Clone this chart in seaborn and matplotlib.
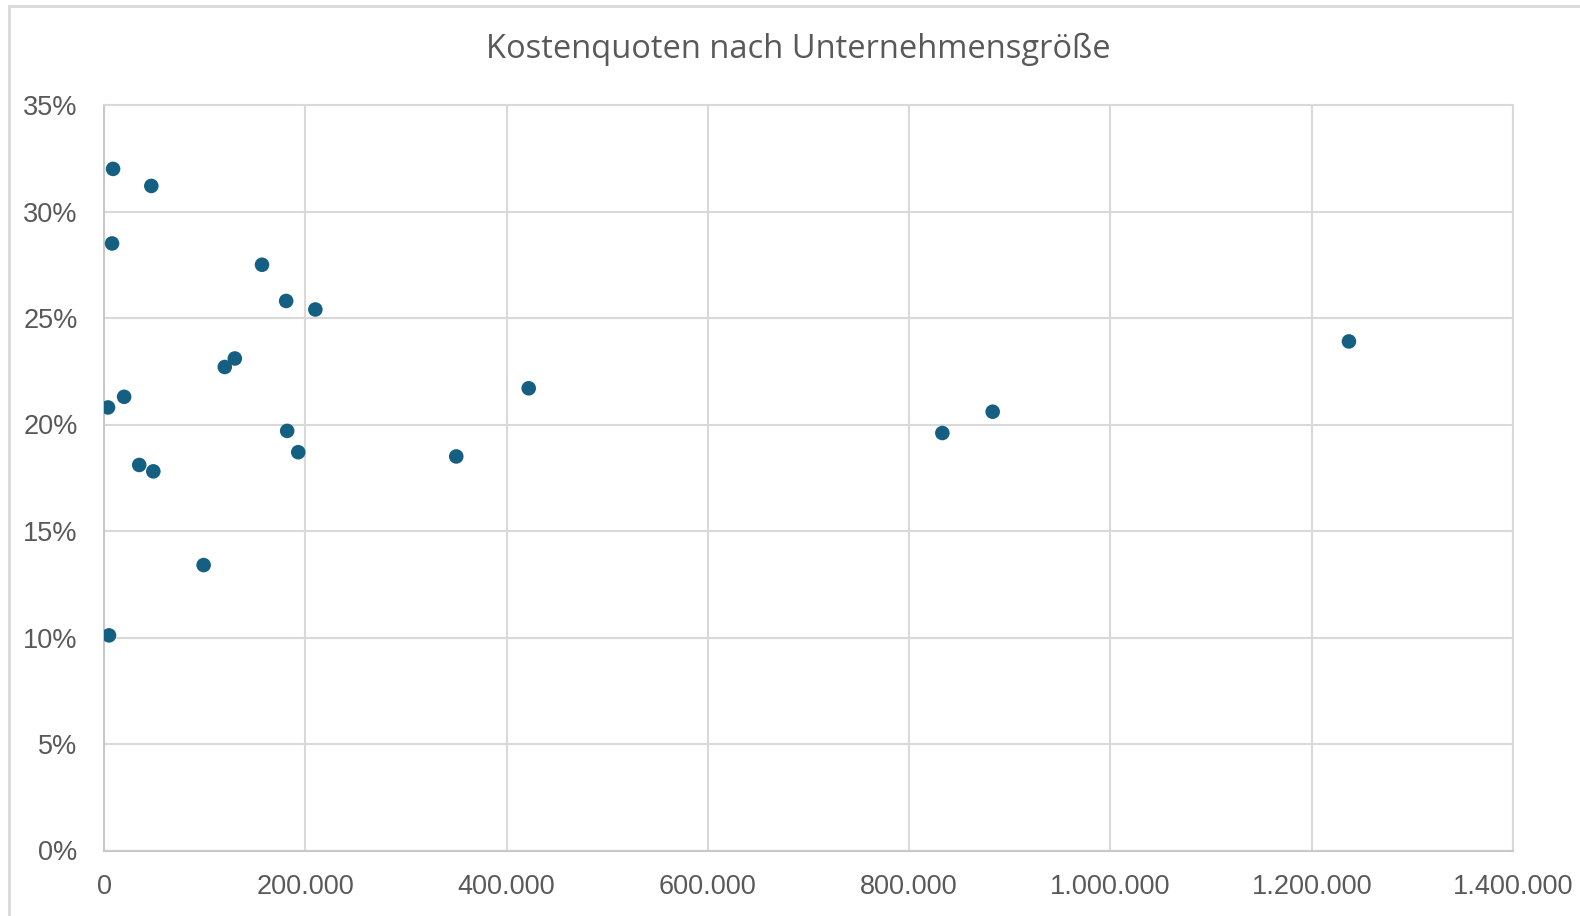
import matplotlib
matplotlib.use("Agg")
import matplotlib.pyplot as plt
import matplotlib.ticker as mticker
import seaborn as sns
import pandas as pd

# values
groesse = [9000, 47000, 8000, 157000, 181000, 210000, 130000, 120000, 20000, 4000,
           182000, 193000, 35000, 49000, 99000, 5000, 350000, 422000, 833000, 883000, 1237000]
kostenquote = [0.320, 0.312, 0.285, 0.275, 0.258, 0.254, 0.231, 0.227, 0.213, 0.208,
               0.197, 0.187, 0.181, 0.178, 0.134, 0.101, 0.185, 0.217, 0.196, 0.206, 0.239]
x_ticks = [0, 200000, 400000, 600000, 800000, 1000000, 1200000, 1400000]
y_ticks = [0, 0.05, 0.10, 0.15, 0.20, 0.25, 0.30, 0.35]

df = pd.DataFrame({"groesse": groesse, "quote": kostenquote})

sns.set_style("white")
plt.rcParams['font.family'] = ['Liberation Sans', 'DejaVu Sans']

fig = plt.figure(figsize=(15.8, 9.16), dpi=100)
ax = fig.add_axes([104 / 1580, 1 - 850.5 / 916, (1513 - 104) / 1580, (850.5 - 105) / 916])

sns.scatterplot(data=df, x="groesse", y="quote", ax=ax, color="#156082",
                s=110, edgecolor="none", zorder=3)

ax.set_xlim(0, 1400000)
ax.set_ylim(0, 0.35)
ax.set_xticks(x_ticks)
ax.set_yticks(y_ticks)
ax.xaxis.set_major_formatter(mticker.FuncFormatter(lambda v, p: f"{int(v):,}".replace(",", ".")))
ax.yaxis.set_major_formatter(mticker.FuncFormatter(lambda v, p: f"{v * 100:.0f}%"))
ax.grid(True, color="#d9d9d9", linewidth=1.5)
ax.set_axisbelow(True)
for s in ax.spines.values():
    s.set_color("#d9d9d9")
    s.set_linewidth(1.5)
ax.spines["left"].set_color("#c8c8c8")
ax.spines["bottom"].set_color("#c8c8c8")
ax.tick_params(axis="both", length=0, labelsize=19.5, colors="#595959")
ax.tick_params(axis="y", pad=19)
ax.tick_params(axis="x", pad=17)
ax.set_xlabel("")
ax.set_ylabel("")

fig.text(0.505, 1 - 49 / 916, "Kostenquoten nach Unternehmensgröße", ha="center", va="center",
         fontsize=23.5, color="#595959", family=["Open Sans", "DejaVu Sans"])

# chart frame
fig.patches.append(plt.Rectangle((9 / 1580, -0.1), 1.2, 1 - 6 / 916 + 0.1, transform=fig.transFigure,
                                 fill=False, edgecolor="#d9d9d9", linewidth=2))

fig.savefig("out.png", dpi=100)
